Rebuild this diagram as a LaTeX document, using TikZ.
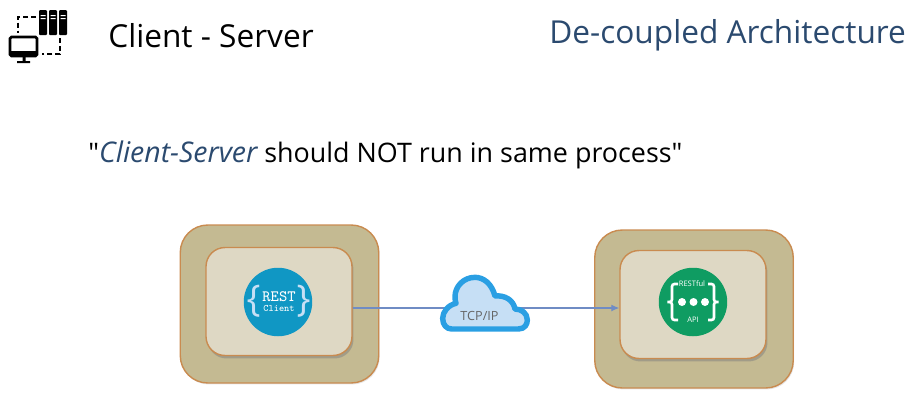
\documentclass[tikz,border=0pt]{standalone}
\usepackage{fontspec}
\setmainfont{Open Sans}[Ligatures=TeXOff]
\setmonofont{Latin Modern Mono}
\usetikzlibrary{positioning}
\usetikzlibrary{arrows.meta}
\usetikzlibrary{shadows}
\definecolor{hostfill}{HTML}{C4BA92}
\definecolor{procfill}{HTML}{DED8C4}
\definecolor{edgeorange}{HTML}{C98B50}
\definecolor{titleblue}{HTML}{2B4A6F}
\definecolor{wireblue}{HTML}{6F8CC4}
\definecolor{restblue}{HTML}{1097C4}
\definecolor{restgreen}{HTML}{0F9C62}
\definecolor{cloudfill}{HTML}{C6DFF5}
\definecolor{cloudedge}{HTML}{2A9FE3}
\tikzset{
	host/.style={draw=edgeorange,fill=hostfill,line width=.8pt,rounded corners=.55cm,minimum width=3.97cm,minimum height=3.16cm,drop shadow={shadow xshift=.02cm,shadow yshift=-.03cm,opacity=.2}},
	proc/.style={draw=edgeorange,fill=procfill,line width=.8pt,rounded corners=.38cm,minimum width=2.92cm,minimum height=2.16cm,drop shadow={shadow xshift=.03cm,shadow yshift=-.06cm,opacity=.5}},
	badge/.style={circle,minimum size=1.37cm,inner sep=0},
	wire/.style={draw=wireblue,line width=.7pt},
	apibrace/.style={draw=white,line width=1.5pt,rounded corners=.05cm},
	heading/.style={inner sep=0,anchor=base west,font=\fontsize{18pt}{22pt}\selectfont}
}
\begin{document}
\begin{tikzpicture}[x=.02cm,y=-.02cm]
	\useasboundingbox (0,0) rectangle (910,417);
	% header icon
	\foreach \sx in {39,49,59}{
		\fill[black,rounded corners=.02cm] (\sx,10) rectangle +(8,25);
		\fill[white] (\sx+1.5,15) rectangle +(5,1) (\sx+1.5,18) rectangle +(5,1);
	}
	\draw[black,line width=1.3pt,dash pattern=on 3pt off 1.5pt] (36,17) -- (18,17) -- (18,33);
	\draw[black,line width=1.3pt,dash pattern=on 3pt off 1.5pt] (60,38) -- (60,54) -- (42,54);
	\draw[black,line width=1.6pt,fill=white,rounded corners=.03cm] (10,37) rectangle (37,56);
	\fill[black] (10,51) rectangle (37,56);
	\fill[black] (22.5,56) rectangle (25.5,61) (17,61) rectangle (30,63);
	% titles
	\node[heading] (title) at (108,47) {Client - Server};
	\node[heading,text=titleblue] (pattern) at (549,43) {De-coupled Architecture};
	\node[inner sep=0,anchor=base west,font=\fontsize{15.3pt}{20pt}\selectfont] (quote) at (88,162) {"{\fontsize{16.2pt}{20pt}\selectfont\itshape\color{titleblue}Client-Server} should NOT run in same process"};
	% client side
	\node[host] (clienthost) at (279.5,304) {};
	\node[proc] (clientproc) at (279,301.5) {};
	\node[badge,fill=restblue] (clientbadge) at (278,302) {};
	\node[text=white,font=\ttfamily\fontsize{9pt}{9pt}\selectfont,inner sep=0] (rest) at (279,296.5) {REST};
	\node[text=white,font=\ttfamily\fontsize{5.6pt}{6pt}\selectfont,inner sep=0] (clientlbl) at (279,308) {Client};
	\node[text=cloudfill,font=\fontsize{21pt}{21pt}\selectfont,inner sep=0] (restopen) at (253.5,301) {\{};
	\node[text=cloudfill,font=\fontsize{21pt}{21pt}\selectfont,inner sep=0] (restclose) at (303.5,301) {\}};
	% server side
	\node[host] (serverhost) at (694,309) {};
	\node[proc] (serverproc) at (693,304.5) {};
	\node[badge,fill=restgreen] (serverbadge) at (693,302) {};
	\node[text=white,font=\fontsize{4.3pt}{5pt}\selectfont,inner sep=0] (restful) at (692,284) {RESTful};
	\node[text=white,font=\fontsize{4.3pt}{5pt}\selectfont,inner sep=0] (api) at (693,319.5) {API};
	\draw[apibrace] (678,284) -- (672,284) -- (672,302) -- (666,302) -- (672,302) -- (672,320) -- (678,320);
	\draw[apibrace] (708,284) -- (714,284) -- (714,302) -- (720,302) -- (714,302) -- (714,320) -- (708,320);
	\foreach \dx in {682,693.5,705}{
		\fill[white] (\dx,302) circle (.08cm);
	}
	% link and cloud
	\coordinate (cloudmid) at (485,308);
	\draw[wire] (clientproc.east |- cloudmid) -- (cloudmid);
	\draw[wire,-{Latex[length=.16cm,width=.14cm]}] (cloudmid) -- (serverproc.west |- cloudmid);
	\begin{scope}[shift={(420,260)},x=.00667cm,y=-.00667cm]
		\draw[draw=cloudedge,fill=cloudfill,line width=3.1pt,line join=round] (95,207) -- (295,207) .. controls (315,207) and (322,192) .. (322,180) .. controls (322,160) and (305,147) .. (285,147) .. controls (280,120) and (255,105) .. (225,108) .. controls (215,70) and (190,52) .. (165,52) .. controls (130,52) and (105,80) .. (105,110) .. controls (105,118) and (106,124) .. (108,130) .. controls (85,135) and (68,155) .. (68,175) .. controls (68,195) and (80,207) .. (95,207) -- cycle;
	\end{scope}
	\node[text=black!60,font=\fontsize{7.2pt}{9pt}\selectfont,inner sep=0] (tcp) at (479.5,316) {TCP/IP};
\end{tikzpicture}
\end{document}
